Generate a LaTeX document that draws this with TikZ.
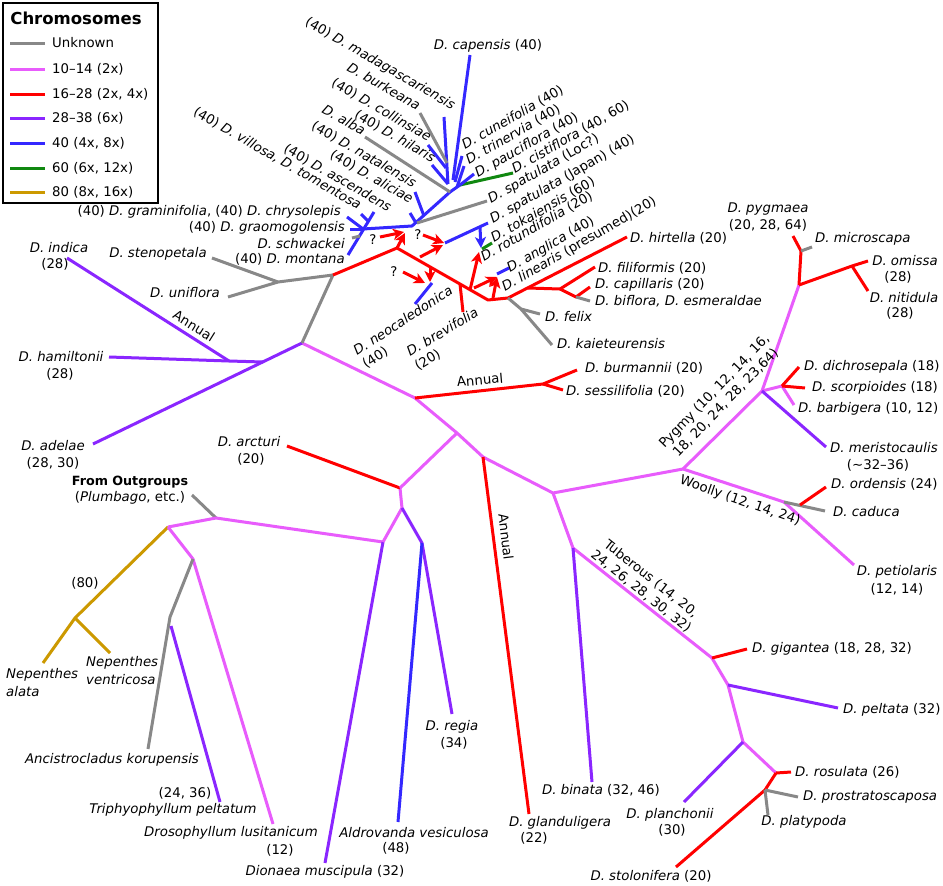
\documentclass[tikz,border=0pt]{standalone}
\usepackage{fontspec}
\setmainfont{DejaVu Sans}
\usetikzlibrary{arrows.meta}
\definecolor{cgray}{RGB}{136,136,136}
\definecolor{cpink}{RGB}{232,92,252}
\definecolor{cred}{RGB}{255,0,0}
\definecolor{cpurple}{RGB}{138,38,255}
\definecolor{cblue}{RGB}{52,40,255}
\definecolor{cgreen}{RGB}{16,136,16}
\definecolor{cgold}{RGB}{204,153,0}
\tikzset{
  br/.style={line width=3pt, line join=round},
  gy/.style={br, draw=cgray},
  pk/.style={br, draw=cpink},
  rd/.style={br, draw=cred},
  pu/.style={br, draw=cpurple},
  bu/.style={br, draw=cblue},
  gn/.style={br, draw=cgreen},
  gd/.style={br, draw=cgold},
  harrow/.style={br, draw=cred, -{Stealth[length=11pt,width=11pt,inset=3pt]}},
  barrow/.style={br, draw=cblue, -{Stealth[length=11pt,width=11pt,inset=3pt]}},
  lab/.style={font=\fontsize{13.3}{16}\selectfont, inner sep=0pt},
  rlab/.style={lab, anchor=base west, rotate=30},
  llab/.style={lab, anchor=base east, rotate=-30},
}
\begin{document}
\begin{tikzpicture}[x=1pt,y=-1pt]
\useasboundingbox (0,0) rectangle (943,886);
\fill[white] (0,0) rectangle (943,886);

% ---------- legend ----------
\draw[line width=1.5pt] (3,3) rectangle (158,203);
\node[lab, font=\fontsize{16.5}{18}\selectfont\bfseries] (ltitle) at (76,18) {Chromosomes};
\draw[gy] (10,43) -- (45,43);  \node[lab, anchor=west] (l1) at (52,43) {Unknown};
\draw[pk] (10,69) -- (45,69);  \node[lab, anchor=west] (l2) at (52,69) {10--14 (2x)};
\draw[rd] (10,94) -- (45,94);  \node[lab, anchor=west] (l3) at (52,94) {16--28 (2x, 4x)};
\draw[pu] (10,118) -- (45,118); \node[lab, anchor=west] (l4) at (52,118) {28--38 (6x)};
\draw[bu] (10,143) -- (45,143); \node[lab, anchor=west] (l5) at (52,143) {40 (4x, 8x)};
\draw[gn] (10,168) -- (45,168); \node[lab, anchor=west] (l6) at (52,168) {60 (6x, 12x)};
\draw[gd] (10,192) -- (45,192); \node[lab, anchor=west] (l7) at (52,192) {80 (8x, 16x)};

% ---------- coordinates ----------
\coordinate (out) at (192,495);
\coordinate (r0) at (216,518);
\coordinate (n1) at (168,527);
\coordinate (nep) at (75,618);
\coordinate (nala) at (43,663);
\coordinate (nven) at (110,653);
\coordinate (n2) at (193,559);
\coordinate (anc) at (170,617);
\coordinate (ancT) at (148,749);
\coordinate (triS) at (171,626);
\coordinate (triT) at (220,802);
\coordinate (droT) at (273,824);
\coordinate (n3) at (383,542);
\coordinate (dioT) at (325,863);
\coordinate (n4) at (402,508);
\coordinate (n5) at (422,543);
\coordinate (aldT) at (398,822);
\coordinate (regT) at (452,714);
\coordinate (n6) at (400,488);
\coordinate (arcT) at (287,446);
\coordinate (n7) at (457,433);
\coordinate (n8) at (415,398);
\coordinate (n9) at (543,384);
\coordinate (burT) at (577,370);
\coordinate (sesT) at (563,390);
\coordinate (n10) at (302,343);
\coordinate (n11) at (263,362);
\coordinate (adeT) at (93,444);
\coordinate (n12) at (229,361);
\coordinate (hamT) at (109,357);
\coordinate (indT) at (67,258);
\coordinate (n13) at (333,275);
\coordinate (n14) at (278,282);
\coordinate (steT) at (212,258);
\coordinate (uniT) at (228,297);
% red subgenus
\coordinate (r1) at (397,248);
\coordinate (r2) at (488,300);
\coordinate (r3) at (508,298);
\coordinate (hirT) at (627,237);
\coordinate (r4) at (528,288);
\coordinate (r5) at (560,289);
\coordinate (filT) at (595,267);
\coordinate (r6) at (576,297);
\coordinate (capT) at (590,287);
\coordinate (bifT) at (590,301);
\coordinate (g1) at (521,309);
\coordinate (felT) at (540,314);
\coordinate (kaiT) at (552,345);
\coordinate (breS) at (460,284);
\coordinate (breT) at (463,312);
% lower right
\coordinate (n15) at (483,457);
\coordinate (glaT) at (529,814);
\coordinate (n16) at (553,493);
\coordinate (n17) at (573,548);
\coordinate (binT) at (592,782);
\coordinate (n18) at (712,658);
\coordinate (gigT) at (747,649);
\coordinate (n19) at (728,685);
\coordinate (pelT) at (838,708);
\coordinate (n20) at (743,742);
\coordinate (plaT) at (684,802);
\coordinate (n21) at (776,773);
\coordinate (rosT) at (791,772);
\coordinate (n22) at (765,790);
\coordinate (stoT) at (676,867);
\coordinate (proT) at (798,797);
\coordinate (platT) at (768,815);
% pygmy / woolly
\coordinate (n23) at (683,469);
\coordinate (n24) at (762,391);
\coordinate (n25) at (799,285);
\coordinate (n26) at (801,251);
\coordinate (pygT) at (793,236);
\coordinate (micT) at (812,247);
\coordinate (n27) at (852,266);
\coordinate (omiT) at (868,261);
\coordinate (nitT) at (868,291);
\coordinate (n28) at (782,386);
\coordinate (dicT) at (799,367);
\coordinate (scoT) at (805,388);
\coordinate (barT) at (794,405);
\coordinate (merT) at (826,447);
\coordinate (n29) at (784,502);
\coordinate (petT) at (854,565);
\coordinate (n30) at (800,505);
\coordinate (ordT) at (826,487);
\coordinate (cadT) at (825,511);
% blue cluster
\coordinate (bmon) at (348,255);
\coordinate (basc) at (374,212);
\coordinate (bg1) at (363,229);
\coordinate (bchr) at (347,217);
\coordinate (bgra) at (350,229);
\coordinate (bvil) at (361,214);
\coordinate (bvilS) at (368,221);
\coordinate (bsch) at (352,238);
\coordinate (bschS) at (360,236);
\coordinate (bA) at (412,226);
\coordinate (bB) at (450,192);
\coordinate (bnat) at (415,192);
\coordinate (bnatS) at (424,216);
\coordinate (bali) at (410,213);
\coordinate (baliS) at (416,223);
\coordinate (bloc) at (487,201);
\coordinate (blocS) at (417,223);
\coordinate (balb) at (365,137);
\coordinate (bC) at (460,185);
\coordinate (bcis) at (513,173);
\coordinate (bpau) at (474,174);
\coordinate (btri) at (464,166);
\coordinate (btriS) at (457,187);
\coordinate (bcun) at (462,156);
\coordinate (bcunS) at (455,182);
\coordinate (bcap) at (470,55);
\coordinate (bcapS) at (453,180);
\coordinate (bmad) at (444,117);
\coordinate (bmadS) at (448,184);
\coordinate (bbur) at (420,113);
\coordinate (bburS) at (447,163);
\coordinate (bcol) at (428,145);
\coordinate (bcolS) at (446,168);
\coordinate (bhil) at (432,165);
\coordinate (bhilS) at (448,184);
\coordinate (bjapS) at (445,243);
\coordinate (bjap) at (488,223);
\coordinate (bdS) at (480,227);
\coordinate (bdT) at (481,248);
\coordinate (gtokS) at (482,249);
\coordinate (gtok) at (492,243);
\coordinate (bangS) at (497,274);
\coordinate (bang) at (509,268);
\coordinate (bneoS) at (432,283);
\coordinate (bneo) at (415,304);

% ---------- branches ----------
\draw[gy] (out) -- (r0);
\draw[pk] (n1) -- (r0) -- (n3);
\draw[gd] (n1) -- (nep) -- (nala);
\draw[gd] (nep) -- (nven);
\draw[pk] (n1) -- (n2) -- (droT);
\draw[gy] (n2) -- (anc) -- (ancT);
\draw[pu] (triS) -- (triT);
\draw[pu] (n3) -- (dioT);
\draw[pk] (n3) -- (n4) -- (n6);
\draw[pu] (n4) -- (n5) -- (regT);
\draw[bu] (n5) -- (aldT);
\draw[rd] (n6) -- (arcT);
\draw[pk] (n6) -- (n7);
\draw[pk] (n10) -- (n8) -- (n7) -- (n15) -- (n16) -- (n23);
\draw[rd] (n8) -- (n9) -- (burT);
\draw[rd] (n9) -- (sesT);
\draw[pu] (n10) -- (adeT);
\draw[pu] (n11) -- (n12) -- (hamT);
\draw[pu] (n12) -- (indT);
\draw[gy] (n10) -- (n13) -- (n14) -- (steT);
\draw[gy] (n14) -- (uniT);
% red subgenus Drosera
\draw[rd] (n13) -- (r1) -- (r2) -- (r3) -- (hirT);
\draw[rd] (r4) -- (r5) -- (filT);
\draw[rd] (r5) -- (r6) -- (capT);
\draw[gy] (r6) -- (bifT);
\draw[gy] (r3) -- (g1) -- (felT);
\draw[gy] (g1) -- (kaiT);
\draw[rd] (breS) -- (breT);
% lower right
\draw[rd] (n15) -- (glaT);
\draw[pk] (n16) -- (n17) -- (n18) -- (n19) -- (n20) -- (n21);
\draw[pu] (n17) -- (binT);
\draw[rd] (n18) -- (gigT);
\draw[pu] (n19) -- (pelT);
\draw[pu] (n20) -- (plaT);
\draw[rd] (n21) -- (rosT);
\draw[rd] (n21) -- (n22) -- (stoT);
\draw[gy] (n22) -- (proT);
\draw[gy] (n22) -- (platT);
% pygmy / woolly
\draw[pk] (n23) -- (n24) -- (n25);
\draw[rd] (n25) -- (n26) -- (pygT);
\draw[gy] (n26) -- (micT);
\draw[rd] (n25) -- (n27) -- (omiT);
\draw[rd] (n27) -- (nitT);
\draw[pk] (n24) -- (n28) -- (barT);
\draw[rd] (n28) -- (dicT);
\draw[rd] (n28) -- (scoT);
\draw[pu] (n24) -- (merT);
\draw[pk] (n23) -- (n29) -- (petT);
\draw[gy] (n29) -- (cadT);
\draw[rd] (n30) -- (ordT);
% blue cluster
\draw[bu] (bmon) -- (basc);
\draw[bu] (bchr) -- (bg1);
\draw[bu] (bgra) -- (bg1);
\draw[bu] (bvil) -- (bvilS);
\draw[gy] (bsch) -- (bschS);
\draw[bu] (bg1) -- (bA) -- (bB) -- (bC);
\draw[bu] (bnat) -- (bnatS);
\draw[bu] (bali) -- (baliS);
\draw[gy] (blocS) -- (bloc);
\draw[gy] (balb) -- (bB);
\draw[gn] (bC) -- (bcis);
\draw[bu] (bC) -- (bpau);
\draw[bu] (btriS) -- (btri);
\draw[bu] (bcunS) -- (bcun);
\draw[bu] (bcapS) -- (bcap);
\draw[bu] (bmadS) -- (bmad);
\draw[gy] (bburS) -- (bbur);
\draw[bu] (bcolS) -- (bcol);
\draw[bu] (bhilS) -- (bhil);
\draw[bu] (bjapS) -- (bjap);
\draw[barrow] (bdS) -- (bdT);
\draw[gn] (gtokS) -- (gtok);
\draw[bu] (bangS) -- (bang);
\draw[bu] (bneoS) -- (bneo);
% hybrid arrows
\draw[harrow] (380,237) -- (404,232);
\draw[harrow] (r1) -- (405,233);
\draw[harrow] (423,235) -- (444,243);
\draw[harrow] (420,257) -- (443,245);
\draw[harrow] (403,272) -- (425,283);
\draw[harrow] (430,266) -- (430,282);
\draw[harrow] (470,290) -- (479,252);
\draw[harrow] (474,288) -- (497,277);
\draw[harrow] (493,298) -- (497,277);
\node[lab] (q1) at (373,240) {?};
\node[lab] (q2) at (418,235) {?};
\node[lab] (q3) at (394,272) {?};

% ---------- labels ----------
\node[lab, font=\fontsize{12.7}{15}\selectfont\bfseries] (Lout) at (130,482) {From Outgroups};
\node[lab] (Lout2) at (130,498) {(\textit{Plumbago}, etc.)};
\node[lab] (L80) at (85,583) {(80)};
\node[lab, anchor=west] (Lna1) at (6,675) {\itshape Nepenthes};
\node[lab, anchor=west] (Lna2) at (6,692) {\itshape alata};
\node[lab, anchor=west] (Lnv1) at (86,663) {\itshape Nepenthes};
\node[lab, anchor=west] (Lnv2) at (86,680) {\itshape ventricosa};
\node[lab] (Lanc) at (112,760) {\itshape Ancistrocladus korupensis};
\node[lab] (Ltri1) at (185,793) {(24, 36)};
\node[lab] (Ltri2) at (173,810) {\itshape Triphyophyllum peltatum};
\node[lab] (Ldro1) at (231,833) {\itshape Drosophyllum lusitanicum};
\node[lab] (Ldro2) at (280,850) {(12)};
\node[lab] (Ldio) at (325,872) {\textit{Dionaea muscipula} (32)};
\node[lab] (Lald1) at (414,833) {\itshape Aldrovanda vesiculosa};
\node[lab] (Lald2) at (396,848) {(48)};
\node[lab] (Lreg1) at (452,727) {\itshape D. regia};
\node[lab] (Lreg2) at (454,743) {(34)};
\node[lab] (Larc1) at (249,442) {\itshape D. arcturi};
\node[lab] (Larc2) at (251,459) {(20)};
\node[lab, anchor=west] (Lbur) at (585,368) {\textit{D. burmannii} (20)};
\node[lab, anchor=west] (Lses) at (566,391) {\textit{D. sessilifolia} (20)};
\node[lab, rotate=5] (Lann1) at (480,380) {Annual};
\node[lab, rotate=-32] (Lann2) at (194,326) {Annual};
\node[lab, rotate=-83] (Lann3) at (506,537) {Annual};
\node[lab] (Lgla1) at (560,823) {\itshape D. glanduligera};
\node[lab] (Lgla2) at (534,838) {(22)};
\node[lab] (Lbin) at (601,790) {\textit{D. binata} (32, 46)};
\node[lab, rotate=-38.4, align=center] (Ltub) at (646,585) {Tuberous (14, 20,\\24, 26, 28, 30, 32)};
\node[lab, anchor=west] (Lgig) at (752,649) {\textit{D. gigantea} (18, 28, 32)};
\node[lab, anchor=west] (Lpel) at (843,710) {\textit{D. peltata} (32)};
\node[lab] (Lpla1) at (670,815) {\itshape D. planchonii};
\node[lab] (Lpla2) at (672,830) {(30)};
\node[lab, anchor=west] (Lros) at (795,772) {\textit{D. rosulata} (26)};
\node[lab] (Lsto) at (651,876) {\textit{D. stolonifera} (20)};
\node[lab, anchor=west] (Lpro) at (803,797) {\itshape D. prostratoscaposa};
\node[lab] (Lplat) at (804,822) {\itshape D. platypoda};
\node[lab, rotate=46, align=center] (Lpyg) at (720,397) {Pygmy (10, 12, 14, 16,\\18, 20, 24, 28, 23,64)};
\node[lab, rotate=-19] (Lwoo) at (740,501) {Woolly (12, 14, 24)};
\node[lab] (Lpet1) at (897,572) {\itshape D. petiolaris};
\node[lab] (Lpet2) at (897,589) {(12, 14)};
\node[lab, anchor=west] (Lord) at (831,484) {\textit{D. ordensis} (24)};
\node[lab, anchor=west] (Lcad) at (833,512) {\itshape D. caduca};
\node[lab, anchor=west] (Lmer1) at (830,448) {\itshape D. meristocaulis};
\node[lab] (Lmer2) at (878,465) {(\char"223C 32--36)};
\node[lab, anchor=west] (Ldic) at (804,367) {\textit{D. dichrosepala} (18)};
\node[lab, anchor=west] (Lsco) at (812,388) {\textit{D. scorpioides} (18)};
\node[lab, anchor=west] (Lbar) at (798,409) {\textit{D. barbigera} (10, 12)};
\node[lab] (Lpyg1) at (768,209) {\itshape D. pygmaea};
\node[lab] (Lpyg2) at (768,225) {(20, 28, 64)};
\node[lab, anchor=west] (Lmic) at (815,239) {\itshape D. microscapa};
\node[lab] (Lomi1) at (905,261) {\itshape D. omissa};
\node[lab] (Lomi2) at (898,277) {(28)};
\node[lab] (Lnit1) at (904,298) {\itshape D. nitidula};
\node[lab] (Lnit2) at (900,313) {(28)};
\node[lab, anchor=west] (Lhir) at (630,238) {\textit{D. hirtella} (20)};
\node[lab, anchor=west] (Lfil) at (598,268) {\textit{D. filiformis} (20)};
\node[lab, anchor=west] (Lcap) at (595,285) {\textit{D. capillaris} (20)};
\node[lab, anchor=west] (Lbif) at (595,301) {\itshape D. biflora, D. esmeraldae};
\node[lab, anchor=west] (Lfel) at (545,317) {\itshape D. felix};
\node[lab, anchor=west] (Lkai) at (557,344) {\itshape D. kaieteurensis};
\node[lab, anchor=base west, rotate=33] (Lneo1) at (357,356) {\itshape D. neocaledonica};
\node[lab, anchor=base west, rotate=33] (Lneo2) at (366,369) {(40)};
\node[lab, anchor=base west, rotate=31] (Lbre1) at (410,357) {\itshape D. brevifolia};
\node[lab, anchor=base west, rotate=31] (Lbre2) at (418,371) {(20)};
\node[lab] (Lind1) at (59,248) {\itshape D. indica};
\node[lab] (Lind2) at (55,264) {(28)};
\node[lab] (Lham1) at (61,357) {\itshape D. hamiltonii};
\node[lab] (Lham2) at (60,374) {(28)};
\node[lab] (Lade1) at (53,446) {\itshape D. adelae};
\node[lab] (Lade2) at (53,463) {(28, 30)};
\node[lab] (Lste) at (158,254) {\itshape D. stenopetala};
\node[lab] (Luni) at (185,293) {\itshape D. uniflora};
% blue cluster labels, left side
\node[llab] (Lmad) at (452,110) {(40) \textit{D. madagascariensis}};
\node[llab] (Lbrk) at (417,111) {\itshape D. burkeana};
\node[llab] (Lcol) at (428,142) {(40) \textit{D. collinsiae}};
\node[llab] (Lhil) at (432,163) {(40) \textit{D. hilaris}};
\node[llab] (Lalb) at (362,136) {\itshape D. alba};
\node[llab] (Lnat) at (413,188) {(40) \textit{D. natalensis}};
\node[llab] (Lali) at (410,204) {(40) \textit{D. aliciae}};
\node[llab] (Lasc) at (388,212) {(40) \textit{D. ascendens}};
\node[llab] (Lvil) at (358,210) {(40) \textit{D. villosa, D. tomentosa}};
\node[lab, anchor=east] (Lgrm) at (341,212) {(40) \textit{D. graminifolia}, (40) \textit{D. chrysolepis}};
\node[lab, anchor=east] (Lgra) at (345,228) {(40) \textit{D. graomogolensis}};
\node[lab, anchor=east] (Lsch) at (345,244) {\itshape D. schwackei};
\node[lab, anchor=east] (Lmon) at (345,259) {(40) \textit{D. montana}};
\node[lab] (Lcps) at (488,46) {\textit{D. capensis} (40)};
% right side rotated
\node[rlab] (Lcun) at (465,150) {\textit{D. cuneifolia} (40)};
\node[rlab] (Ltrn) at (469,165) {\textit{D. trinervia} (40)};
\node[rlab] (Lpau) at (478,178) {\textit{D. pauciflora} (40)};
\node[rlab] (Lcis) at (515,174) {\textit{D. cistiflora} (40, 60)};
\node[rlab] (Lloc) at (491,204) {\textit{D. spatulata} (Loc?)};
\node[rlab] (Ljap) at (493,224) {\textit{D. spatulata} (Japan) (40)};
\node[rlab] (Ltok) at (494,243) {\textit{D. tokaiensis} (60)};
\node[rlab] (Lrot) at (484,262) {\textit{D. rotundifolia} (20)};
\node[rlab] (Lang) at (510,273) {\textit{D. anglica} (40)};
\node[rlab] (Llin) at (505,292) {\textit{D. linearis} (presumed)(20)};
\end{tikzpicture}
\end{document}
